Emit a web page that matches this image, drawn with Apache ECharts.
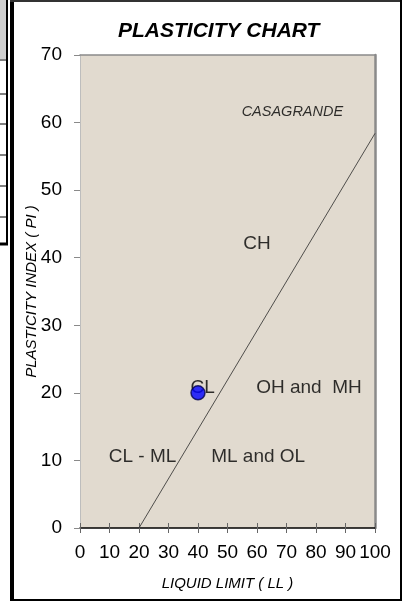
<!DOCTYPE html>
<html>
<head>
<meta charset="utf-8">
<script src="https://cdn.jsdelivr.net/npm/echarts@6/dist/echarts.min.js"></script>
<style>
  html, body { margin: 0; padding: 0; background: #ffffff; }
  #chart { width: 402px; height: 608px; }
</style>
</head>
<body>
<div id="chart"></div>
<script>
// Casagrande plasticity chart data
const llRange = [0, 100];          // liquid limit axis
const piRange = [0, 70];           // plasticity index axis
const axisStep = 10;

// A-line: PI = 0.73 (LL - 20)
const aLineLL = [20, 100];
const aLinePI = [0, 58.4];

// Tested sample
const sampleLL = [40];
const samplePI = [20];

// Zone names and where they sit on the chart (LL, PI)
const zoneNames = ['CASAGRANDE', 'CH', 'CL', 'OH and  MH', 'CL - ML', 'ML and OL'];
const zoneLL = [72, 60, 41.6, 77.6, 21.2, 60.4];
const zonePI = [61.6, 42, 20.7, 20.7, 10.5, 10.6];

const FONT = 'Liberation Sans, Arial, sans-serif';

const chart = echarts.init(document.getElementById('chart'), null, { renderer: 'canvas' });

const zoneData = zoneNames.map((name, i) => {
  const item = { name: name, value: [zoneLL[i], zonePI[i]] };
  if (name === 'CASAGRANDE') {
    item.label = { fontStyle: 'italic', fontSize: 14.5 };
  }
  return item;
});

const baseX = { type: 'value', min: llRange[0], max: llRange[1], interval: axisStep, splitLine: { show: false } };
const baseY = { type: 'value', min: piRange[0], max: piRange[1], interval: axisStep, splitLine: { show: false } };

chart.setOption({
  animation: false,
  backgroundColor: '#ffffff',
  title: {
    text: 'PLASTICITY CHART',
    left: 118,
    top: 21,
    padding: 0,
    textStyle: { fontFamily: FONT, fontSize: 21, fontWeight: 'bold', fontStyle: 'italic', color: '#000' }
  },
  grid: {
    left: 80, right: 27, top: 55, bottom: 80,
    show: true, backgroundColor: '#e1dacf', borderWidth: 0,
    containLabel: false
  },
  xAxis: [
    Object.assign({}, baseX, {
      position: 'bottom',
      name: 'LIQUID LIMIT ( LL )',
      nameLocation: 'middle',
      nameGap: 48,
      nameTextStyle: { fontFamily: FONT, fontSize: 15, fontStyle: 'italic', color: '#000' },
      axisLine: { show: true, onZero: false, lineStyle: { color: '#000', width: 1.5 } },
      axisTick: { show: true, inside: false, length: 5, lineStyle: { color: '#666', width: 1 } },
      axisLabel: { show: true, margin: 15, fontFamily: FONT, fontSize: 19, color: '#000' }
    }),
    Object.assign({}, baseX, {
      position: 'top',
      axisLine: { show: true, onZero: false, lineStyle: { color: '#8a8a8a', width: 1.5 } },
      axisTick: { show: false },
      axisLabel: { show: false }
    }),
    Object.assign({}, baseX, {
      position: 'bottom',
      axisLine: { show: false },
      axisTick: { show: true, inside: true, length: 5, lineStyle: { color: '#666', width: 1 } },
      axisLabel: { show: false }
    })
  ],
  yAxis: [
    Object.assign({}, baseY, {
      position: 'left',
      name: 'PLASTICITY INDEX ( PI )',
      nameLocation: 'middle',
      nameGap: 41,
      nameRotate: 90,
      nameMoveOverlap: false,
      nameTextStyle: { fontFamily: FONT, fontSize: 15, fontStyle: 'italic', color: '#000' },
      axisLine: { show: true, onZero: false, lineStyle: { color: '#bdbdbd', width: 1 } },
      axisTick: { show: true, inside: false, length: 6, lineStyle: { color: '#8a8a8a', width: 1 } },
      axisLabel: { show: true, margin: 18, fontFamily: FONT, fontSize: 19, color: '#000' }
    }),
    Object.assign({}, baseY, {
      position: 'right',
      axisLine: { show: true, onZero: false, lineStyle: { color: '#8a8a8a', width: 2.5 } },
      axisTick: { show: false },
      axisLabel: { show: false }
    })
  ],
  series: [
    {
      name: 'A-line',
      type: 'line',
      xAxisIndex: 0, yAxisIndex: 0,
      data: aLineLL.map((ll, i) => [ll, aLinePI[i]]),
      symbol: 'none',
      silent: true,
      lineStyle: { color: '#2a2a2a', width: 0.8 },
      z: 2
    },
    {
      name: 'Zones',
      type: 'scatter',
      xAxisIndex: 0, yAxisIndex: 0,
      data: zoneData,
      symbolSize: 0,
      silent: true,
      label: {
        show: true,
        position: 'inside',
        formatter: p => p.name,
        fontFamily: FONT,
        fontSize: 19,
        color: '#000'
      },
      z: 3
    },
    {
      name: 'Sample',
      type: 'scatter',
      xAxisIndex: 0, yAxisIndex: 0,
      data: sampleLL.map((ll, i) => [ll, samplePI[i]]),
      symbol: 'circle',
      symbolSize: 14,
      itemStyle: { color: '#0000ff', borderColor: '#000050', borderWidth: 1.5 },
      z: 5
    }
  ],
  graphic: [
    // outer frame
    { type: 'rect', shape: { x: 10, y: 0, width: 4, height: 601 }, style: { fill: '#000' }, silent: true },
    { type: 'line', shape: { x1: 10, y1: 1, x2: 402, y2: 1 }, style: { stroke: '#333', lineWidth: 2 }, silent: true },
    { type: 'line', shape: { x1: 10, y1: 600, x2: 402, y2: 600 }, style: { stroke: '#000', lineWidth: 2 }, silent: true },
    { type: 'line', shape: { x1: 401, y1: 0, x2: 401, y2: 601 }, style: { stroke: '#000', lineWidth: 2 }, silent: true },
    // neighbouring table edge
    { type: 'rect', shape: { x: 0, y: 0, width: 6, height: 59 }, style: { fill: '#cfcfcf' }, silent: true },
    { type: 'line', shape: { x1: 7, y1: 0, x2: 7, y2: 245 }, style: { stroke: '#000', lineWidth: 2 }, silent: true },
    { type: 'line', shape: { x1: 0, y1: 60, x2: 7, y2: 60 }, style: { stroke: '#000', lineWidth: 1 }, silent: true },
    { type: 'line', shape: { x1: 0, y1: 94, x2: 7, y2: 94 }, style: { stroke: '#000', lineWidth: 1 }, silent: true },
    { type: 'line', shape: { x1: 0, y1: 124, x2: 7, y2: 124 }, style: { stroke: '#000', lineWidth: 1 }, silent: true },
    { type: 'line', shape: { x1: 0, y1: 155, x2: 7, y2: 155 }, style: { stroke: '#000', lineWidth: 1 }, silent: true },
    { type: 'line', shape: { x1: 0, y1: 186, x2: 7, y2: 186 }, style: { stroke: '#000', lineWidth: 1 }, silent: true },
    { type: 'line', shape: { x1: 0, y1: 217, x2: 7, y2: 217 }, style: { stroke: '#000', lineWidth: 1 }, silent: true },
    { type: 'line', shape: { x1: 0, y1: 244, x2: 8, y2: 244 }, style: { stroke: '#000', lineWidth: 3 }, silent: true }
  ]
});
</script>
</body>
</html>
